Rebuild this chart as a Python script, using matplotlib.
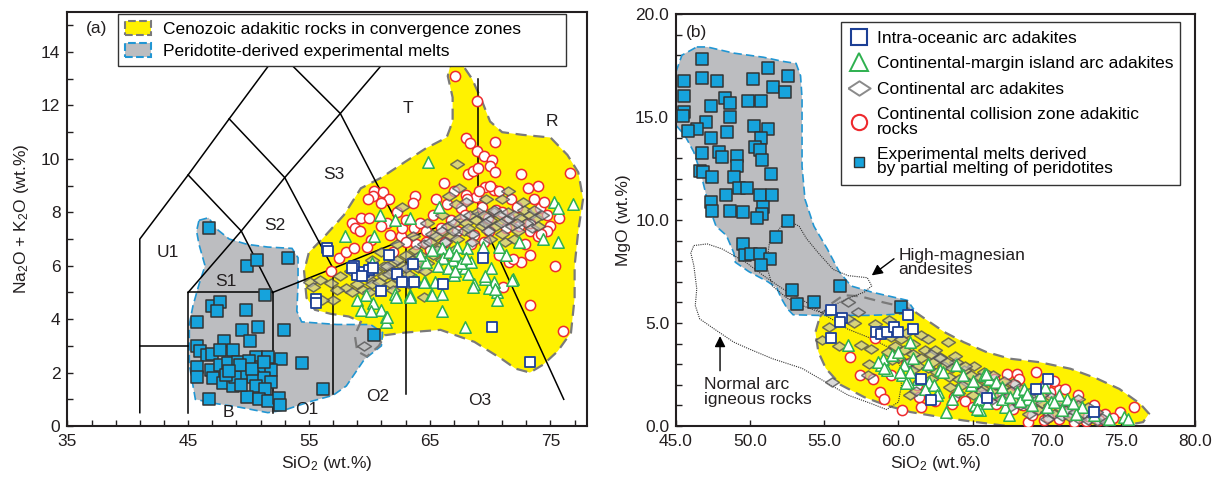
import matplotlib.pyplot as plt
import numpy as np
from matplotlib.patches import Polygon, Patch
from matplotlib.lines import Line2D
from matplotlib.ticker import FixedLocator, MultipleLocator, FormatStrFormatter

plt.rcParams['font.family'] = ['Liberation Sans', 'DejaVu Sans']
plt.rcParams['mathtext.fontset'] = 'custom'
plt.rcParams['mathtext.rm'] = 'Liberation Sans'
plt.rcParams['mathtext.it'] = 'Liberation Sans:italic'

# 颜色
YEL = '#fff200'
GRAY_FILL = '#bcbdc0'
BLUE_EDGE = '#2196d3'
EXP_FACE = '#16a3dc'
IOA_EDGE = '#1c3f95'
GREEN = '#2eb04f'
RED = '#ee2a2e'
TXT = '#231f20'
# 扁菱形标记
RHOMB = [(-1, 0), (0, 0.65), (1, 0), (0, -0.65), (-1, 0)]

# ---------------- (a) TAS 数据 ----------------
# TAS 分类线 (SiO2, Na2O+K2O)
tas_lines = [
    [(41, 0.5), (41, 7), (45, 9.4), (48.4, 11.5), (52.5, 14)],
    [(41, 3), (45, 3)],
    [(45, 0.5), (45, 5), (52, 5), (52, 0.5)],
    [(52, 5), (57, 5.9), (63, 7), (69, 8)],
    [(57, 1.2), (57, 5.9)],
    [(63, 1.2), (63, 7)],
    [(69, 8), (69, 13)],
    [(69, 8), (76.1, 1.0)],
    [(45, 5), (49.4, 7.3), (53, 9.3), (57.6, 11.7), (61, 13.5)],
    [(45, 9.4), (49.4, 7.3), (52, 5)],
    [(48.4, 11.5), (53, 9.3), (57, 5.9)],
    [(52.5, 14), (57.6, 11.7), (63, 7)],
]
tas_names = ['U1', 'S1', 'S2', 'S3', 'T', 'R', 'B', 'O1', 'O2', 'O3']
tas_name_x = [43.3, 48.1, 52.2, 57.1, 63.2, 75.1, 48.3, 54.8, 60.7, 69.1]
tas_name_y = [6.5, 5.4, 7.5, 9.4, 11.9, 11.4, 0.5, 0.6, 1.1, 0.95]

# 区域轮廓
yel_a = [(66.7, 13.5), (67.6, 13.6), (68.5, 13.0), (69.3, 12.2), (70.0, 11.4), (71.0, 11.0),
         (72.7, 10.9), (75.0, 10.8), (76.4, 10.15), (77.3, 9.5), (77.7, 8.5), (77.3, 7.3),
         (77.0, 6.0), (77.0, 4.8), (76.7, 3.5), (75.6, 2.8), (74.4, 2.3), (73.3, 2.0),
         (72.1, 2.15), (71.0, 2.5), (68.7, 3.15), (65.9, 3.6), (63.0, 3.5), (61.3, 3.4),
         (60.8, 3.0), (59.8, 2.6), (59.0, 2.8), (58.8, 3.4), (59.3, 3.9), (58.3, 4.1),
         (56.8, 4.2), (55.5, 4.35), (54.8, 4.8), (54.6, 5.8), (55.0, 6.5), (56.1, 7.0),
         (57.9, 7.9), (59.3, 8.9), (61.0, 9.3), (63.0, 9.9), (64.7, 10.4), (66.4, 10.8),
         (66.9, 11.4), (66.9, 12.3), (66.5, 13.1)]
gray_a = [(45.9, 7.7), (46.7, 7.8), (47.3, 7.4), (48.4, 7.0), (49.9, 6.8), (51.6, 6.7),
          (53.6, 6.65), (54.1, 6.3), (54.1, 5.3), (54.0, 4.3), (54.4, 3.9), (57.3, 3.8),
          (60.1, 3.8), (61.1, 3.5), (61.0, 3.0), (59.6, 2.5), (58.1, 1.5), (57.0, 1.15),
          (55.0, 0.9), (53.0, 0.6), (51.6, 0.5), (49.3, 0.7), (47.3, 0.84), (45.6, 1.0),
          (45.1, 2.3), (45.1, 3.8), (45.4, 4.5), (45.9, 5.3), (46.4, 6.0), (45.9, 6.8),
          (45.7, 7.3)]

exp_a = [(46.7, 7.4), (49.9, 6.0), (50.7, 6.2), (53.3, 6.3), (51.4, 4.9), (47.0, 4.5),
         (47.6, 4.65), (47.4, 4.3), (49.8, 4.35), (45.7, 3.9), (49.5, 3.6), (50.8, 3.7),
         (52.9, 3.6), (50.1, 3.2), (48.0, 3.2), (45.7, 3.0), (46.0, 2.8), (46.6, 2.65),
         (47.0, 2.7), (47.6, 2.85), (48.7, 2.85), (50.6, 2.6), (51.6, 2.6), (52.7, 2.5),
         (54.4, 2.35), (45.7, 2.2), (45.7, 1.85), (46.9, 2.1), (47.6, 2.3), (48.3, 2.35),
         (49.1, 2.4), (50.0, 2.45), (51.0, 2.2), (51.9, 2.1), (47.1, 1.8), (47.9, 1.6),
         (48.7, 1.5), (49.7, 1.9), (50.4, 1.85), (51.3, 1.8), (51.9, 1.65), (48.9, 1.85),
         (48.1, 1.9), (50.6, 1.5), (51.4, 1.4), (56.2, 1.4), (46.7, 1.0), (49.9, 1.1),
         (50.9, 1.0), (51.6, 0.95), (52.5, 1.05), (52.6, 0.8), (60.4, 3.4), (49.3, 2.3),
         (50.3, 2.15), (51.3, 2.4), (49.4, 1.55), (48.4, 2.05)]
ioa_a = [(56.5, 6.65), (56.6, 6.55), (55.6, 4.75), (55.6, 4.6), (58.7, 6.0), (59.0, 5.65),
         (59.6, 5.75), (60.0, 5.85), (60.3, 5.9), (61.6, 6.4), (61.0, 5.05), (62.3, 5.7),
         (62.7, 5.4), (63.6, 6.05), (63.7, 5.4), (66.1, 5.3), (69.4, 6.3), (70.2, 3.7),
         (73.3, 2.4), (58.6, 5.93), (59.4, 5.6)]
cma_a = [(64.9, 9.9), (60.9, 7.9), (62.1, 7.7), (58.0, 7.1), (60.4, 7.1), (63.4, 7.8),
         (65.8, 8.2), (75.3, 8.4), (75.6, 8.15), (76.9, 8.3), (74.4, 7.0), (75.6, 6.9),
         (72.4, 6.9), (71.3, 6.4), (70.7, 6.7), (69.4, 6.7), (68.1, 6.65), (67.3, 6.7),
         (66.0, 6.65), (66.1, 6.3), (64.7, 6.15), (67.3, 6.0), (67.9, 5.9), (68.4, 6.15),
         (67.0, 5.65), (70.1, 5.9), (71.9, 5.5), (70.3, 5.4), (68.7, 5.3), (69.9, 5.15),
         (70.6, 5.0), (70.6, 4.7), (69.6, 5.5), (65.4, 5.4), (64.6, 5.4), (63.9, 5.45),
         (63.4, 4.9), (62.1, 4.95), (65.1, 4.9), (66.0, 4.95), (59.0, 4.7), (59.7, 4.9),
         (60.3, 4.6), (61.0, 4.35), (61.4, 4.1), (61.4, 3.9), (59.3, 4.35), (60.1, 4.3),
         (66.0, 4.3), (67.9, 3.7), (66.6, 6.5), (66.9, 6.2), (67.2, 6.4), (67.6, 6.1),
         (68.0, 6.3), (66.5, 5.9), (67.1, 5.8), (68.2, 5.7), (65.7, 6.0), (65.2, 6.6),
         (64.2, 6.4), (60.2, 6.1), (62.2, 4.84), (63.4, 4.82), (64.5, 5.38), (65.2, 4.9),
         (68.6, 5.2), (69.6, 5.6), (70.4, 5.12), (71.8, 5.47), (61.5, 4.1)]
ccz_a = [(67.1, 13.1), (68.9, 12.15), (68.0, 10.8), (68.3, 10.6), (70.4, 10.65), (68.9, 10.3),
         (69.5, 10.1), (70.2, 9.94), (70.0, 9.75), (68.2, 9.44), (68.6, 9.55), (69.0, 9.65),
         (70.4, 9.5), (72.6, 9.44), (74.0, 9.0), (76.6, 9.46), (66.2, 9.1), (69.6, 8.96),
         (70.3, 8.84), (68.0, 8.65), (68.8, 8.59), (63.8, 8.6), (60.4, 8.8), (61.1, 8.75),
         (60.3, 8.6), (61.6, 8.5), (61.0, 8.35), (63.6, 8.35), (59.9, 8.5), (58.6, 7.6),
         (59.3, 7.8), (58.8, 7.4), (59.2, 7.3), (61.5, 7.6), (60.1, 6.97), (61.7, 7.15),
         (62.6, 7.1), (62.7, 7.4), (63.7, 7.4), (64.2, 7.6), (57.5, 6.28), (58.1, 6.53),
         (58.7, 6.65), (56.8, 5.82), (66.4, 8.3), (67.6, 8.15), (68.1, 8.5), (69.1, 8.8),
         (70.0, 9.0), (70.7, 8.8), (71.7, 8.5), (73.1, 8.9), (73.6, 8.5), (74.1, 8.15),
         (74.7, 7.9), (75.0, 7.5), (74.7, 7.3), (71.6, 7.8), (72.4, 7.5), (73.3, 7.3),
         (74.0, 7.1), (73.3, 6.4), (71.3, 7.4), (69.9, 7.3), (68.7, 7.15), (67.3, 7.3),
         (65.9, 7.4), (64.7, 7.3), (70.7, 6.4), (71.6, 6.15), (68.4, 6.8), (63.9, 6.8),
         (63.0, 6.9), (64.7, 6.9), (73.3, 7.6), (74.2, 7.2), (71.1, 5.2), (73.3, 4.53),
         (76.0, 3.57), (72.6, 6.15), (71.9, 6.24), (75.4, 6.0), (65.3, 7.9), (66.8, 7.7),
         (67.9, 7.9), (69.3, 8.2), (70.5, 8.1), (72.2, 8.2), (65.5, 8.5), (62.3, 8.0),
         (63.0, 7.7), (66.3, 6.9), (69.5, 6.9), (72.9, 6.8), (61.0, 7.5), (60.0, 7.8),
         (59.8, 6.7), (62.0, 6.5), (65.0, 6.6), (71.0, 8.0), (67.0, 8.8), (69.8, 7.8),
         (74.5, 8.4), (75.7, 7.8)]
cad_a = [(67.3, 9.8), (62.7, 8.2), (66.6, 8.6), (67.4, 8.9), (55.1, 5.4), (55.9, 5.47),
         (56.8, 5.37), (57.6, 5.6), (58.1, 5.16), (58.6, 5.03), (57.0, 4.72), (56.1, 4.72),
         (64.5, 4.84), (71.5, 8.78), (59.6, 3.0), (55.3, 5.2), (57.3, 5.1), (62.0, 6.1),
         (61.2, 6.0), (58.5, 5.8), (60.0, 5.5), (65.2, 7.2), (70.3, 8.0),
         (59.0, 5.3), (59.5, 5.1), (59.8, 5.6), (60.2, 5.3), (60.5, 5.8), (60.8, 5.4),
         (61.2, 5.6), (61.5, 6.0), (61.8, 5.3), (62.0, 5.8), (62.3, 6.2), (62.5, 5.5),
         (62.8, 6.0), (63.0, 6.4), (63.2, 5.7), (63.5, 6.2), (63.8, 6.6), (64.0, 5.9),
         (64.2, 6.4), (64.5, 6.8), (64.8, 6.1), (65.0, 6.9), (65.3, 6.4), (65.5, 7.1),
         (65.8, 6.7), (66.0, 7.3), (66.3, 6.9), (66.5, 7.5), (66.8, 7.1), (67.0, 7.6),
         (67.3, 7.0), (67.5, 7.8), (67.8, 7.3), (68.0, 7.6), (68.3, 7.9), (68.5, 7.2),
         (68.8, 7.7), (69.0, 8.0), (69.3, 7.5), (69.5, 7.9), (69.8, 7.3), (70.0, 7.7),
         (70.3, 8.1), (70.5, 7.5), (70.8, 7.9), (71.0, 7.2), (71.3, 7.7), (71.5, 8.0),
         (71.8, 7.5), (72.0, 7.9), (72.3, 7.3), (72.5, 7.8), (72.8, 8.1), (73.0, 7.6),
         (73.3, 7.9), (73.5, 7.4), (73.8, 7.8), (74.0, 7.5), (74.3, 7.9), (71.2, 6.9),
         (72.0, 7.0), (70.0, 7.0), (68.5, 6.9), (67.0, 6.6), (66.0, 6.2), (64.6, 5.8),
         (63.3, 5.3), (62.0, 5.1), (60.0, 5.0), (68.0, 8.4), (69.7, 8.5), (71.0, 8.5),
         (72.7, 8.4), (67.2, 8.3), (66.0, 7.9), (64.8, 7.6), (63.6, 7.1), (62.3, 6.8),
         (61.0, 6.5), (60.2, 6.2), (64.3, 6.1), (65.6, 6.6), (66.9, 7.3), (68.2, 7.4),
         (69.6, 7.6), (70.9, 7.6), (72.2, 7.6), (73.6, 8.1), (63.0, 5.9), (61.6, 5.7)]

# ---------------- (b) SiO2-MgO 数据 ----------------
gray_b = [(46.4, 18.4), (47.1, 18.4), (48.9, 18.1), (50.9, 17.9), (52.2, 17.7), (53.1, 17.6),
          (53.4, 17.0), (53.5, 15.9), (53.5, 12.6), (53.7, 11.0), (54.3, 9.7), (55.2, 8.6),
          (56.0, 7.5), (56.8, 6.8), (58.2, 6.5), (59.7, 6.25), (60.6, 6.1), (61.0, 5.7),
          (60.4, 5.45), (59.2, 5.4), (57.9, 5.37), (54.6, 5.37), (52.9, 5.4), (52.5, 5.7),
          (52.1, 6.2), (51.8, 6.7), (51.2, 7.0), (49.9, 7.5), (49.0, 7.95), (48.9, 8.4),
          (48.4, 9.25), (47.7, 9.7), (47.2, 10.7), (46.7, 12.2), (46.2, 13.3), (45.6, 14.1),
          (45.0, 14.6), (45.0, 15.9), (45.0, 17.2), (45.4, 18.0)]
yel_b = [(54.7, 5.3), (55.4, 5.9), (56.3, 6.35), (57.4, 6.3), (59.0, 6.0), (60.5, 5.75),
         (61.0, 5.6), (61.8, 5.2), (63.1, 4.56), (64.4, 4.07), (65.9, 3.6), (67.5, 3.27),
         (69.5, 3.1), (71.6, 2.78), (73.4, 2.3), (74.9, 1.8), (76.3, 1.08), (76.9, 0.6),
         (76.5, 0.19), (74.7, -0.05), (72.1, -0.2), (69.5, -0.1), (67.0, 0.03), (64.4, 0.27),
         (62.3, 0.5), (60.8, 0.68), (59.2, 1.0), (57.7, 1.4), (56.1, 2.0), (55.1, 2.8),
         (54.6, 3.6), (54.4, 4.55)]
nar_b = [(46.2, 8.76), (47.1, 8.84), (48.1, 8.6), (49.7, 7.95), (50.9, 7.3), (52.2, 6.66),
         (53.8, 6.0), (55.1, 5.37), (56.6, 4.7), (58.2, 4.24), (59.5, 3.75), (60.1, 2.94),
         (60.2, 1.97), (60.0, 1.16), (59.2, 0.8), (58.2, 1.08), (56.6, 1.5), (55.1, 2.13),
         (53.5, 2.8), (51.5, 3.27), (49.9, 3.75), (48.9, 4.07), (47.6, 4.7), (46.6, 5.2),
         (46.3, 5.85), (46.4, 6.66), (46.2, 7.8), (46.0, 8.4)]
hma_b = [(52.5, 10.0), (53.3, 9.7), (53.8, 9.1), (54.6, 8.4), (55.6, 7.6), (56.6, 7.3),
         (57.9, 7.2), (58.2, 6.8), (57.7, 6.5), (56.6, 6.2), (55.6, 5.85), (54.8, 5.5),
         (53.5, 5.85), (52.5, 6.2), (51.5, 6.8), (51.1, 7.8), (51.3, 8.9), (52.0, 9.6)]

exp_b = [(46.76, 17.82), (45.57, 16.77), (45.57, 16.0), (45.57, 15.26), (45.5, 15.05),
         (46.76, 16.9), (47.76, 16.77), (50.17, 16.85), (51.2, 17.36), (52.55, 17.0),
         (51.54, 16.44), (52.36, 16.23), (48.31, 15.9), (48.67, 15.7), (49.83, 15.8),
         (50.74, 15.8), (47.38, 15.55), (48.62, 15.02), (47.02, 14.78), (46.42, 14.42),
         (45.83, 14.34), (50.27, 14.58), (51.2, 14.42), (47.38, 13.97), (48.41, 14.26),
         (50.74, 13.97), (50.3, 13.52), (50.68, 13.42), (46.76, 13.26), (47.9, 13.32),
         (48.1, 13.05), (49.13, 13.13), (49.08, 12.64), (50.81, 12.89), (46.63, 12.38),
         (46.8, 12.32), (47.45, 12.08), (51.4, 12.24), (48.93, 12.08), (49.26, 11.54),
         (49.78, 11.54), (48.36, 11.22), (50.68, 11.22), (51.46, 11.22), (47.33, 10.86),
         (47.45, 10.46), (48.67, 10.46), (49.52, 10.41), (50.89, 10.62), (50.81, 10.3),
         (50.43, 10.09), (52.55, 9.93), (51.72, 9.17), (49.52, 8.84), (49.65, 8.31),
         (50.04, 8.36), (50.68, 8.36), (51.33, 8.12), (50.74, 7.84), (56.06, 6.82),
         (52.8, 6.58), (53.17, 5.93), (54.3, 6.01), (60.19, 5.77)]
ioa_b = [(55.47, 5.61), (56.19, 5.24), (56.06, 5.04), (55.47, 4.28), (58.49, 4.56),
         (58.82, 4.48), (59.21, 4.56), (59.68, 4.8), (59.99, 4.56), (60.63, 5.4),
         (60.97, 4.72), (61.49, 2.3), (62.18, 1.24), (65.98, 1.36), (69.29, 1.81),
         (70.06, 2.3), (73.17, 0.68)]
cma_b = [(56.63, 3.91), (58.82, 2.94), (58.95, 3.27), (59.6, 3.43), (60.37, 2.94), (60.25, 2.46),
         (60.63, 2.13), (60.76, 4.07), (59.99, 3.59), (62.05, 2.13), (61.8, 1.81), (62.7, 1.65),
         (63.22, 0.68), (63.6, 1.33), (62.83, 2.7), (63.86, 2.94), (65.16, 1.0), (65.41, 1.33),
         (65.8, 2.46), (66.14, 2.3), (66.58, 2.13), (67.22, 0.92), (67.48, 0.52), (68.0, 1.65),
         (68.5, 1.81), (68.77, 1.33), (69.55, 1.49), (70.32, 1.16), (70.84, 1.49), (71.36, 1.33),
         (72.39, 0.92), (73.17, 0.52), (74.2, 0.36), (75.23, 0.44), (75.49, 0.36), (64.38, 2.46),
         (64.9, 1.97), (60.76, 2.62), (66.19, 1.65), (66.96, 1.33), (61.3, 2.3), (62.4, 2.0),
         (64.0, 1.8), (65.0, 2.2), (67.0, 1.9), (68.2, 1.2), (69.0, 1.0), (70.0, 0.9),
         (71.0, 0.8), (72.0, 0.6), (58.6, 3.1), (59.2, 2.7), (61.0, 3.3), (62.0, 3.0),
         (63.0, 2.6), (65.5, 0.8), (66.0, 1.1), (67.5, 1.4), (69.9, 1.9), (71.8, 1.1),
         (59.0, 2.84), (60.1, 2.6), (60.5, 2.11), (62.6, 1.5), (65.3, 0.82), (65.9, 2.52),
         (68.7, 1.55), (70.5, 1.15)]
ccz_b = [(56.71, 3.35), (57.4, 2.46), (58.31, 2.3), (58.75, 1.65), (58.39, 4.28), (59.47, 2.46),
         (60.25, 0.76), (61.54, 0.92), (61.41, 1.41), (61.28, 1.97), (63.6, 1.08), (63.73, 1.41),
         (66.45, 2.3), (67.35, 2.54), (68.0, 2.54), (68.13, 2.3), (69.29, 2.62), (70.84, 1.73),
         (71.23, 1.81), (72.13, 1.49), (73.17, 1.0), (73.94, 0.6), (74.97, 0.68), (75.88, 0.92),
         (68.77, 0.19), (69.81, 0.27), (70.84, 0.36), (71.87, 0.19), (72.65, 0.23), (70.06, 0.44),
         (69.03, 0.52), (66.96, 1.65), (67.87, 1.97), (69.16, 1.49), (70.19, 1.65), (66.58, 1.08),
         (67.74, 0.84), (64.5, 1.2), (65.0, 0.9), (62.5, 1.2), (68.4, 1.0), (71.5, 0.7),
         (72.8, 0.5), (74.5, 0.4), (73.5, 0.3), (70.5, 2.2), (69.9, 2.0), (65.8, 1.5),
         (60.5, 3.0), (59.0, 1.3)]
cad_b = [(57.27, 5.53), (56.63, 5.2), (54.82, 4.16), (57.48, 3.91), (58.18, 3.75), (58.44, 4.96),
         (59.34, 5.13), (61.54, 4.4), (63.35, 4.07), (62.83, 3.35), (55.54, 2.13), (57.92, 2.46),
         (60.76, 1.49), (72.13, 1.33), (56.63, 6.01), (56.0, 3.9), (55.3, 4.8), (59.5, 4.3),
         (60.5, 4.5), (62.0, 4.2), (58.0, 3.0), (57.0, 5.0), (61.2, 1.7),
         (59.3, 3.6), (59.8, 3.9), (60.0, 3.3), (60.4, 3.7), (60.7, 3.1), (61.0, 3.5),
         (61.3, 2.9), (61.5, 3.3), (61.8, 3.7), (62.0, 2.8), (62.3, 3.1), (62.6, 2.6),
         (62.8, 3.3), (63.1, 2.9), (63.4, 2.4), (63.6, 2.8), (63.9, 3.1), (64.1, 2.3),
         (64.4, 2.7), (64.7, 2.1), (64.9, 2.5), (65.2, 2.0), (65.5, 2.4), (65.7, 1.8),
         (66.0, 2.2), (66.3, 1.7), (66.5, 2.0), (66.8, 1.5), (67.0, 1.9), (67.3, 1.4),
         (67.6, 1.7), (67.8, 1.2), (68.1, 1.5), (68.4, 1.1), (68.6, 1.4), (68.9, 0.9),
         (69.2, 1.2), (69.4, 0.8), (69.7, 1.1), (70.0, 0.7), (70.2, 1.0), (70.5, 0.6),
         (70.8, 0.9), (71.0, 0.5), (71.3, 0.8), (71.6, 0.45), (71.9, 0.7), (72.2, 0.35),
         (72.5, 0.6), (72.8, 0.3), (73.1, 0.5), (73.4, 0.25), (73.7, 0.4), (74.0, 0.2),
         (60.2, 4.2), (61.0, 4.0), (62.5, 3.7), (63.8, 3.4), (65.1, 2.9), (66.4, 2.5),
         (67.7, 2.1), (69.0, 1.7), (70.3, 1.4), (71.5, 1.1), (72.8, 0.9), (65.0, 1.5),
         (66.2, 1.2), (67.5, 0.9), (68.8, 0.6), (70.0, 0.35), (63.5, 1.9), (62.2, 2.3),
         (64.0, 1.6), (59.6, 3.2), (60.9, 2.7), (62.2, 3.5), (63.3, 3.1), (64.5, 2.9),
         (65.8, 2.6), (67.1, 2.2), (68.3, 1.8), (69.6, 1.5), (70.9, 1.2), (72.1, 1.0),
         (73.3, 0.7), (64.3, 2.0), (65.6, 1.7), (66.9, 1.3), (68.2, 1.0)]

# ---------------- 绘图 ----------------
fig = plt.figure(figsize=(12.2, 4.79), dpi=100)
ax1 = fig.add_axes([0.0552, 0.1106, 0.4257, 0.8644])
ax2 = fig.add_axes([0.5541, 0.1106, 0.4254, 0.8602])


def regions(ax, yel, gray):
    ax.add_patch(Polygon(yel, closed=True, facecolor=YEL, edgecolor='none', zorder=1))
    ax.add_patch(Polygon(gray, closed=True, facecolor=GRAY_FILL, edgecolor=BLUE_EDGE,
                         linestyle=(0, (5, 2.5)), linewidth=1.2, zorder=2))
    ax.add_patch(Polygon(yel, closed=True, facecolor='none', edgecolor='#7a7a7a',
                         linestyle=(0, (5, 3)), linewidth=1.6, zorder=2.5))


def points(ax, exp, ioa, cma, ccz, cad):
    p = np.array(ccz)
    ax.scatter(p[:, 0], p[:, 1], s=54, marker='o', facecolor='white', edgecolor=RED,
               linewidth=1.1, zorder=4)
    p = np.array(cad)
    ax.scatter(p[:, 0], p[:, 1], s=100, marker=RHOMB, facecolor=(0.76, 0.76, 0.76, 0.62),
               edgecolor=(0.3, 0.3, 0.3, 0.75), linewidth=1.1, zorder=5)
    p = np.array(cma)
    ax.scatter(p[:, 0], p[:, 1], s=68, marker='^', facecolor='white', edgecolor=GREEN,
               linewidth=1.1, zorder=6)
    p = np.array(ioa)
    ax.scatter(p[:, 0], p[:, 1], s=60, marker='s', facecolor='white', edgecolor=IOA_EDGE,
               linewidth=1.3, zorder=7)
    p = np.array(exp)
    ax.scatter(p[:, 0], p[:, 1], s=64, marker='s', facecolor=EXP_FACE, edgecolor='#333333',
               linewidth=1.1, zorder=3)


# (a)
regions(ax1, yel_a, gray_a)
for seg in tas_lines:
    s = np.array(seg)
    ax1.plot(s[:, 0], s[:, 1], color='k', lw=1.1, zorder=2.8)
points(ax1, exp_a, ioa_a, cma_a, ccz_a, cad_a)
for n, x, y in zip(tas_names, tas_name_x, tas_name_y):
    ax1.text(x, y, n, ha='center', va='center', fontsize=12.5, color=TXT, zorder=9)
ax1.text(37.4, 14.9, '(a)', ha='center', va='center', fontsize=12.5, color=TXT)
ax1.set_xlim(35, 78)
ax1.set_ylim(0, 15.5)
ax1.xaxis.set_major_locator(FixedLocator([35, 45, 55, 65, 75]))
ax1.xaxis.set_minor_locator(FixedLocator(np.arange(35, 79, 2)))
ax1.yaxis.set_major_locator(MultipleLocator(2))
ax1.yaxis.set_minor_locator(MultipleLocator(1))
ax1.set_xlabel('SiO$_2$ (wt.%)', fontsize=12.5, color=TXT, labelpad=3)
ax1.set_ylabel('Na$_2$O + K$_2$O (wt.%)', fontsize=12.5, color=TXT, labelpad=7)
h_a = [Patch(facecolor=YEL, edgecolor='#7a7a7a', linestyle='--', linewidth=1.5),
       Patch(facecolor=GRAY_FILL, edgecolor=BLUE_EDGE, linestyle='--', linewidth=1.5)]
leg = ax1.legend(h_a, ['Cenozoic adakitic rocks in convergence zones',
                       'Peridotite-derived experimental melts'],
                 loc='upper left', bbox_to_anchor=(0.098, 0.895, 0.862, 0.1), mode='expand',
                 fontsize=12.5, frameon=True, fancybox=False, framealpha=1,
                 edgecolor='#333333', borderpad=0.4, labelspacing=0.35,
                 handlelength=1.5, handleheight=0.85, handletextpad=0.7, borderaxespad=0)
leg.get_frame().set_linewidth(1.0)
leg.set_zorder(10)

# (b)
regions(ax2, yel_b, gray_b)
for poly in (nar_b, hma_b):
    ax2.add_patch(Polygon(poly, closed=True, facecolor='none', edgecolor='#333333',
                          linestyle=(0, (1, 1)), linewidth=0.8, zorder=2.7))
points(ax2, exp_b, ioa_b, cma_b, ccz_b, cad_b)
ax2.annotate('', xy=(58.05, 7.23), xytext=(59.85, 8.2),
             arrowprops=dict(arrowstyle='-|>', color='k', lw=1.0, mutation_scale=16), zorder=9)
ax2.annotate('', xy=(47.97, 4.5), xytext=(47.97, 2.55),
             arrowprops=dict(arrowstyle='-|>', color='k', lw=1.0, mutation_scale=16), zorder=9)
ax2.text(60.0, 7.95, 'High-magnesian\nandesites', ha='left', va='center', fontsize=12.5,
         color=TXT, linespacing=0.95, zorder=9)
ax2.text(46.86, 1.65, 'Normal arc\nigneous rocks', ha='left', va='center', fontsize=12.5,
         color=TXT, linespacing=0.95, zorder=9)
ax2.text(46.4, 19.1, '(b)', ha='center', va='center', fontsize=12.5, color=TXT)
ax2.set_xlim(45, 80)
ax2.set_ylim(0, 20)
ax2.xaxis.set_major_locator(MultipleLocator(5))
ax2.yaxis.set_major_locator(MultipleLocator(5))
ax2.yaxis.set_minor_locator(MultipleLocator(1))
ax2.xaxis.set_major_formatter(FormatStrFormatter('%.1f'))
ax2.yaxis.set_major_formatter(FormatStrFormatter('%.1f'))
ax2.set_xlabel('SiO$_2$ (wt.%)', fontsize=12.5, color=TXT, labelpad=3)
ax2.set_ylabel('MgO (wt.%)', fontsize=12.5, color=TXT, labelpad=3)
h_b = [Line2D([], [], ls='none', marker='s', ms=11, mfc='white', mec=IOA_EDGE, mew=1.5),
       Line2D([], [], ls='none', marker='^', ms=12.5, mfc='white', mec=GREEN, mew=1.4),
       Line2D([], [], ls='none', marker=RHOMB, ms=16, mfc='white', mec='#8a8a8a', mew=1.4),
       Line2D([], [], ls='none', marker='o', ms=11, mfc='white', mec=RED, mew=1.5),
       Line2D([], [], ls='none', marker='s', ms=6.7, mfc=EXP_FACE, mec='#333333', mew=1.0)]
leg2 = ax2.legend(h_b, ['Intra-oceanic arc adakites', 'Continental-margin island arc adakites',
                        'Continental arc adakites', 'Continental collision zone adakitic\nrocks',
                        'Experimental melts derived\nby partial melting of peridotites'],
                  loc='upper left', bbox_to_anchor=(0.317, 0.881, 0.655, 0.1), mode='expand',
                  fontsize=12.5, frameon=True, fancybox=False, framealpha=1,
                  edgecolor='#333333', borderpad=0.5, labelspacing=0.6,
                  handlelength=1.1, handletextpad=0.5, borderaxespad=0)
leg2.get_frame().set_linewidth(1.0)
for t in leg2.get_texts():
    t.set_linespacing(0.95)
leg2.set_zorder(10)

for ax in (ax1, ax2):
    ax.tick_params(which='both', direction='in', length=4, width=1.0, labelsize=12.5,
                   colors=TXT)
    ax.tick_params(axis='x', pad=6)
    ax.tick_params(axis='y', pad=5)
    for sp in ax.spines.values():
        sp.set_linewidth(1.5)
        sp.set_color('#231f20')

fig.savefig('out.png', dpi=100)
